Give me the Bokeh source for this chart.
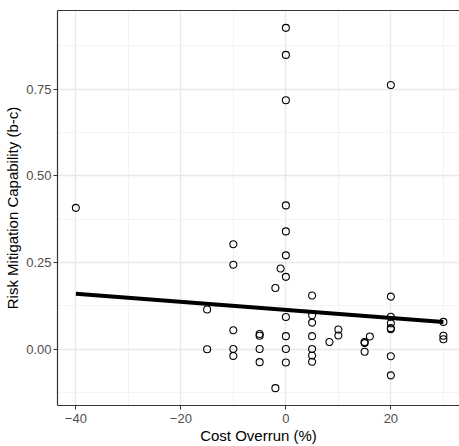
from bokeh.plotting import figure
from bokeh.models import Range1d, FixedTicker, LinearAxis, ColumnDataSource
from bokeh.embed import file_html
from bokeh.resources import INLINE

# Cost overrun (%) of each project
cost_overrun = [-40,
                0, 0, 0, 0, 0, 0, 0, 0, 0, 0, 0,
                -1, -2, -2,
                20, 20, 20, 20, 20, 20, 20, 20,
                -10, -10, -10, -10, -10,
                5, 5, 5, 5, 5, 5, 5,
                30, 30, 30,
                -5, -5, -5, -5,
                8.3, 10, 10,
                15, 15, 15, 16,
                -15, -15]
# Risk mitigation capability (b-c)
risk_mitigation = [0.408,
                   0.927, 0.849, 0.718, 0.415, 0.340, 0.271, 0.209, 0.093, 0.038, 0.001, -0.038,
                   0.233, 0.177, -0.112,
                   0.762, 0.152, 0.094, 0.075, 0.061, 0.058, -0.020, -0.075,
                   0.303, 0.244, 0.055, 0.001, -0.019,
                   0.155, 0.098, 0.077, 0.038, 0.001, -0.018, -0.036,
                   0.079, 0.039, 0.029,
                   0.044, 0.039, 0.001, -0.037,
                   0.021, 0.057, 0.040,
                   0.021, 0.018, -0.007, 0.037,
                   0.115, 0.000]

# linear fit line
fit_x = [-40, 30]
fit_y = [0.160, 0.079]

x_major = [-40, -20, 0, 20]
x_minor = [-30, -10, 10, 30]
y_major = [0.0, 0.25, 0.5, 0.75]
y_minor = [-0.125, 0.125, 0.375, 0.625, 0.875]
y_labels = {0.0: "0.00", 0.25: "0.25", 0.5: "0.50", 0.75: "0.75"}

FONT = "Liberation Sans"
BORDER = "#333333"

p = figure(width=459, height=446, output_backend="svg", toolbar_location=None,
           x_range=Range1d(-43.5, 33.07), y_range=Range1d(-0.162, 0.977),
           x_axis_label="Cost Overrun (%)",
           y_axis_label="Risk Mitigation Capability (b-c)")
p.min_border_left = 57
p.min_border_right = 0
p.min_border_top = 10
p.min_border_bottom = 38
p.outline_line_color = None
p.background_fill_color = "white"
p.border_fill_color = "white"

p.xaxis.ticker = FixedTicker(ticks=x_major, minor_ticks=x_minor)
p.yaxis.ticker = FixedTicker(ticks=y_major, minor_ticks=y_minor)
p.yaxis.major_label_overrides = y_labels

for ax in (p.xaxis[0], p.yaxis[0]):
    ax.axis_line_color = BORDER
    ax.axis_line_width = 1.2
    ax.major_tick_line_color = BORDER
    ax.major_tick_line_width = 1
    ax.major_tick_in = 0
    ax.major_tick_out = 4
    ax.minor_tick_line_color = None
    ax.major_label_text_font = FONT
    ax.major_label_text_font_size = "13px"
    ax.major_label_text_color = "#4D4D4D"
    ax.axis_label_text_font = FONT
    ax.axis_label_text_font_size = "15px"
    ax.axis_label_text_font_style = "normal"
    ax.axis_label_text_color = "black"

p.xaxis[0].major_label_standoff = 4
p.xaxis[0].axis_label_standoff = 1
p.yaxis[0].major_label_standoff = 2
p.yaxis[0].axis_label_standoff = 2

top = LinearAxis(ticker=FixedTicker(ticks=[]), major_label_text_font_size="0px",
                 axis_line_color=BORDER, axis_line_width=1.2,
                 major_tick_line_color=None, minor_tick_line_color=None)
p.add_layout(top, "above")

for g in (p.xgrid[0], p.ygrid[0]):
    g.grid_line_color = "#E8E8E8"
    g.grid_line_width = 1.4
    g.minor_grid_line_color = "#F2F2F2"
    g.minor_grid_line_width = 0.9

src = ColumnDataSource(dict(x=cost_overrun, y=risk_mitigation))
p.scatter("x", "y", source=src, size=7, marker="circle",
          fill_color=None, line_color="black", line_width=1.1)
p.line(fit_x, fit_y, line_color="black", line_width=4)

open("out.html", "w").write(file_html(p, INLINE))
